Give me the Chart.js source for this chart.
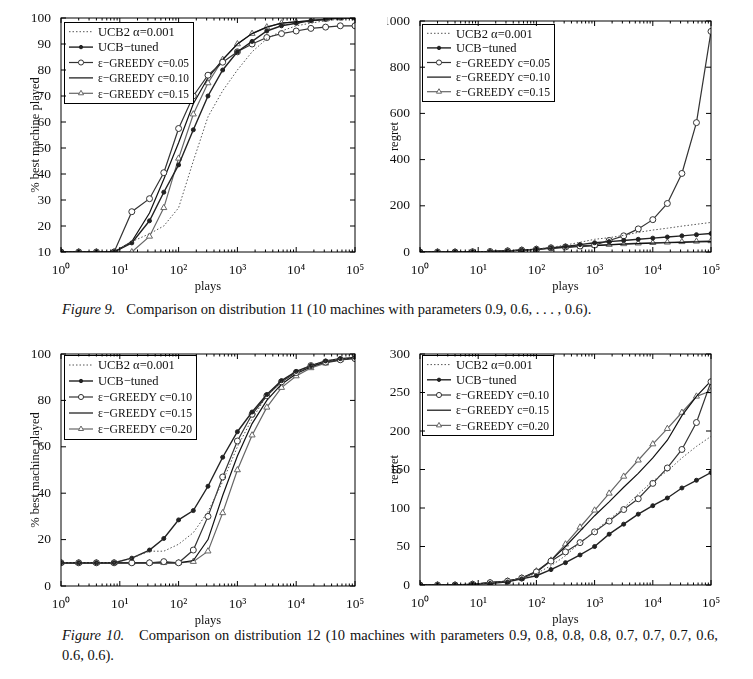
<!DOCTYPE html>
<html><head><meta charset="utf-8">
<script src="https://cdn.jsdelivr.net/npm/chart.js@4"></script>
<style>
body{margin:0;background:#fff;width:753px;height:679px;position:relative;overflow:hidden;font-family:"Liberation Serif",serif;}
canvas{position:absolute;}
.cap{position:absolute;left:62px;font-size:14.5px;color:#111;white-space:nowrap;}
</style></head><body>
<div class="cap" style="top:301px"><i>Figure 9.</i>&nbsp;&nbsp; Comparison on distribution 11 (10 machines with parameters 0.9, 0.6, . . . , 0.6).</div>
<div class="cap" style="top:627px;width:656px;white-space:normal;text-align:justify;text-align-last:justify;"><i>Figure 10.</i>&nbsp;&nbsp; Comparison on distribution 12 (10 machines with parameters 0.9, 0.8, 0.8, 0.8, 0.7, 0.7, 0.7, 0.6,</div>
<div class="cap" style="top:647px">0.6, 0.6).</div>
<script>
const plays=[1,2,4,8,16,32,56,100,178,316,562,1000,1778,3162,5623,10000,17783,31623,56234,100000];
const xTicks=[1,10,100,1000,10000,100000];
const xTickLabels=['10⁰','10¹','10²','10³','10⁴','10⁵'];

// Figure 9
const f9Labels=['UCB2 α=0.001','UCB−tuned','ε−GREEDY c=0.05','ε−GREEDY c=0.10','ε−GREEDY c=0.15'];
const f9best_ucb2=[10,10,10,10,14,17,20,27,45,62,72,80,87,92,95,97,98,99,99.5,100];
const f9best_tuned=[10,10,10,10,13.5,22,33,43.5,57,70,80,87,91,95,97,98,99,99.5,100,100];
const f9best_e05=[10,10,10,10,25.5,30.5,40.5,57.5,70,78,83,87,90,92.5,94,95,96,96.5,97,97];
const f9best_e10=[10,10,10,10,14,25,38,52,67,77,84,90,94,96.5,98,98.5,99,99.5,100,100];
const f9best_e15=[10,10,10,10,10,16,27,46,63,75,84,90,94,96.5,98,98.5,99,99.5,100,100];
const f9reg_ucb2=[0,0,0,1,3,5,8,13,20,30,42,55,62,72,85,95,103,112,120,128];
const f9reg_tuned=[0,0,0,1,2,5,8,12,18,24,32,40,45,50,55,60,65,70,75,80];
const f9reg_e05=[0,0,0,1,2,5,8,12,18,22,26,30,50,70,100,140,210,340,560,955];
const f9reg_e10=[0,0,0,1,2,5,8,12,16,20,24,28,31,34,36,38,40,42,44,45];
const f9reg_e15=[0,0,0,1,2,5,8,12,17,21,25,29,32,35,38,40,42,44,46,48];

// Figure 10
const f10Labels=['UCB2 α=0.001','UCB−tuned','ε−GREEDY c=0.10','ε−GREEDY c=0.15','ε−GREEDY c=0.20'];
const f10best_ucb2=[10,10,10,10,12,15,15,18,23,32,45,60,72,82,88,92,95,97,98,98.5];
const f10best_tuned=[10,10,10,10,12,15.5,20.5,28.5,32.5,43,55.5,66.5,75,82.5,88.5,92.5,95,97,98,98.5];
const f10best_e10=[10,10,10,10,10,10,10.5,10,15.5,30,47,62.5,74,82,88,92,95,96.5,97.5,98];
const f10best_e15=[10,10,10,10,10,10,10,10,11,20,39,56,70,80,87,91.5,94.5,96.5,97.5,98.5];
const f10best_e20=[10,10,10,10,10,10,10,10,10.5,15,31.5,50,65,77,85.5,90.5,94,96,97.5,98.5];
const f10reg_ucb2=[0,0,0,1,3,5,9,15,25,38,55,70,85,100,118,135,148,165,180,193];
const f10reg_tuned=[0,0,0,1,2,4,8,12,20,29,39,50,66,79,92,103,113,126,136,146];
const f10reg_e10=[0,0,0,1,3,5,9,17,31,43,55,69,83,98,112,132,152,176,211,264];
const f10reg_e15=[0,0,0,1,3,5,9,17,32,50,70,90,108,127,145,165,188,220,245,265];
const f10reg_e20=[0,0,0,1,3,5,9,18,32,53,75,97,119,141,162,183,203,224,245,252];

const DARK='#222', GREY='#666';
function styles(){
  return [
    {borderColor:'#555',borderWidth:1,borderDash:[1.5,2],pointRadius:0,pointStyle:'line'},
    {borderColor:DARK,borderWidth:1.4,pointRadius:2,pointStyle:'circle',pointBackgroundColor:DARK,pointBorderColor:DARK},
    {borderColor:'#333',borderWidth:1.2,pointRadius:3,pointStyle:'circle',pointBackgroundColor:'#fff',pointBorderColor:'#333'},
    {borderColor:'#111',borderWidth:1.2,pointRadius:0,pointStyle:'line'},
    {borderColor:GREY,borderWidth:1.2,pointRadius:3.5,pointStyle:'triangle',pointBackgroundColor:'#fff',pointBorderColor:GREY}
  ];
}
const legendPlugin={
  id:'boxLegend',
  afterDatasetsDraw(chart,args,opts){
    const c=chart.ctx, a=chart.chartArea;
    const x0=a.left+opts.dx, y0=a.top+opts.dy, w=opts.w, rh=opts.rh;
    const h=rh*5+4;
    c.save();
    c.fillStyle='#fff';c.fillRect(x0,y0,w,h);
    c.strokeStyle='#000';c.lineWidth=1;c.setLineDash([]);c.strokeRect(x0+0.5,y0+0.5,w,h);
    chart.data.datasets.forEach((d,i)=>{
      const y=y0+2+rh*(i+0.5);
      c.strokeStyle=d.borderColor;c.lineWidth=d.borderWidth;c.setLineDash(d.borderDash||[]);
      c.beginPath();c.moveTo(x0+5,y);c.lineTo(x0+29,y);c.stroke();c.setLineDash([]);
      if(d.pointRadius>0){
        c.fillStyle=d.pointBackgroundColor;c.strokeStyle=d.pointBorderColor;c.lineWidth=1;
        Chart.helpers.drawPoint(c,{pointStyle:d.pointStyle,radius:d.pointRadius*0.85,borderWidth:1},x0+17,y);
      }
      c.fillStyle='#111';c.font='12.5px "Liberation Serif", serif';c.textBaseline='middle';
      let t=d.label; const maxW=w-38;
      c.fillText(t,x0+34,y+1,maxW);
    });
    c.restore();
  }
};
const framePlugin={id:'frame',afterDraw(chart){const c=chart.ctx,a=chart.chartArea;c.save();c.strokeStyle='#000';c.lineWidth=1;c.strokeRect(a.left,a.top,a.right-a.left,a.bottom-a.top);
  const xs=chart.scales.x, ys=chart.scales.y;
  for(let e=0;e<5;e++)for(let m=2;m<10;m++){const px=xs.getPixelForValue(m*Math.pow(10,e));c.beginPath();c.moveTo(px,a.bottom);c.lineTo(px,a.bottom-2.5);c.moveTo(px,a.top);c.lineTo(px,a.top+2.5);c.stroke();}
  xTicks.forEach(v=>{const px=xs.getPixelForValue(v);c.beginPath();c.moveTo(px,a.bottom);c.lineTo(px,a.bottom-5);c.moveTo(px,a.top);c.lineTo(px,a.top+5);c.stroke();});
  ys.ticks.forEach(t=>{const py=ys.getPixelForValue(t.value);c.beginPath();c.moveTo(a.left,py);c.lineTo(a.left+5,py);c.moveTo(a.right,py);c.lineTo(a.right-5,py);c.stroke();});
  c.restore();}};

function mk(area,series,labels,ymin,ymax,ystep,ytitle,leg){
  const PL=20,YW=33,XH=42,PT=12,PR=16;
  const cv=document.createElement('canvas');
  const W=(area.r-area.l)+YW+PL+PR, H=(area.b-area.t)+PT+XH;
  cv.style.left=(area.l-YW-PL)+'px';cv.style.top=(area.t-PT)+'px';
  cv.style.width=W+'px';cv.style.height=H+'px';cv.width=W;cv.height=H;
  document.body.appendChild(cv);
  const st=styles();
  const font={family:'"Liberation Serif", serif',size:13.5};
  new Chart(cv,{type:'line',
    data:{datasets:series.map((s,i)=>Object.assign({label:labels[i],data:plays.map((x,j)=>({x,y:s[j]})),fill:false,tension:0,pointBorderWidth:1},st[i]))},
    options:{responsive:false,animation:false,devicePixelRatio:1,
      layout:{padding:{top:PT,right:PR,left:PL,bottom:0}},
      plugins:{legend:{display:false},tooltip:{enabled:false},boxLegend:leg},
      scales:{
        x:{type:'logarithmic',min:1,max:100000,
          afterBuildTicks:s=>{s.ticks=xTicks.map(v=>({value:v}));},
          afterFit:s=>{s.height=XH;},
          grid:{display:false},border:{display:false},
          ticks:{color:'#111',font,maxRotation:0,padding:2,callback:(v)=>xTickLabels[xTicks.indexOf(v)]},
          title:{display:true,text:'plays',color:'#111',font:{family:font.family,size:12.5},padding:{top:0,bottom:0}}},
        y:{min:ymin,max:ymax,
          afterFit:s=>{s.width=YW;},
          grid:{display:false},border:{display:false},
          ticks:{stepSize:ystep,color:'#111',font,padding:2,callback:v=>String(v)},
          title:{display:true,text:ytitle,color:'#111',font:{family:font.family,size:12.5},padding:{top:0,bottom:0}}}
      }},
    plugins:[framePlugin,legendPlugin]});
}
mk({l:61,t:18,r:355,b:252},[f9best_ucb2,f9best_tuned,f9best_e05,f9best_e10,f9best_e15],f9Labels,10,100,10,'% best machine played',{dx:3,dy:4,w:129,rh:15.4});
mk({l:420,t:21,r:711,b:252},[f9reg_ucb2,f9reg_tuned,f9reg_e05,f9reg_e10,f9reg_e15],f9Labels,0,1000,200,'regret',{dx:2,dy:3,w:132,rh:14.6});
mk({l:61,t:354,r:355,b:586},[f10best_ucb2,f10best_tuned,f10best_e10,f10best_e15,f10best_e20],f10Labels,0,100,20,'% best machine played',{dx:3,dy:1,w:132,rh:16});
mk({l:420,t:354,r:711,b:585},[f10reg_ucb2,f10reg_tuned,f10reg_e10,f10reg_e15,f10reg_e20],f10Labels,0,300,50,'regret',{dx:2,dy:1,w:131,rh:15.2});
</script></body></html>
